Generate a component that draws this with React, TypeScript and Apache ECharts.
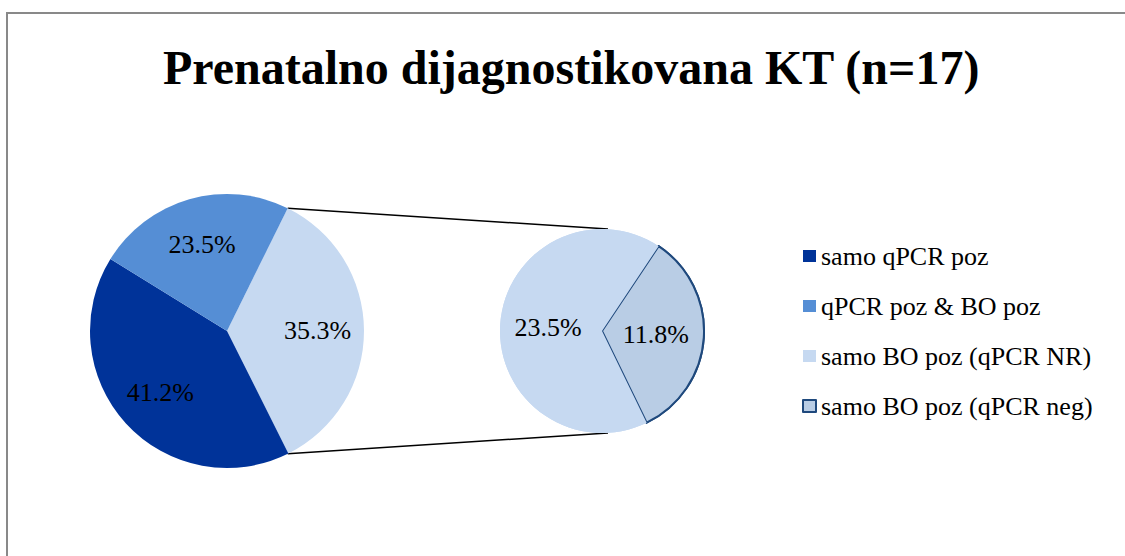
import React, { useEffect, useRef } from "react";
import * as echarts from "echarts";

const TITLE = "Prenatalno dijagnostikovana KT (n=17)";
// primary pie (clockwise from the split boundary)
const mainNames = ["samo BO poz", "samo qPCR poz", "qPCR poz & BO poz"];
const mainValues = [35.3, 41.2, 23.5];
const mainColors = ["#C6D9F1", "#003399", "#558ED5"];
// secondary pie (breakdown of "samo BO poz")
const subNames = ["samo BO poz (qPCR neg)", "samo BO poz (qPCR NR)"];
const subValues = [11.8, 23.5];
const subColors = ["#B9CDE5", "#C6D9F1"];
const legendNames = [
  "samo qPCR poz",
  "qPCR poz & BO poz",
  "samo BO poz (qPCR NR)",
  "samo BO poz (qPCR neg)",
];

const FONT = "Liberation Serif";

// layout
const C1 = [227, 331];
const R1 = 137;
const C2 = [602, 331];
const R2 = 102;
const START1 = 63.7;
const START2 = 56.3;

const boxStyle: React.CSSProperties = {
  position: "absolute",
  left: 0,
  top: 0,
  width: 1125,
  height: 556,
};

function mainData(withColor: boolean) {
  return mainNames.map((n, i) => ({
    name: n,
    value: mainValues[i],
    itemStyle: withColor
      ? { color: mainColors[i], borderWidth: 0 }
      : { color: "rgba(0,0,0,0)", borderWidth: 0 },
  }));
}

function subData() {
  return subNames.map((n, i) => ({
    name: n,
    value: subValues[i],
    itemStyle:
      i === 0
        ? { color: subColors[i], borderColor: "#1F497D", borderWidth: 2 }
        : { color: subColors[i], borderWidth: 0 },
  }));
}

export default function App() {
  const baseRef = useRef<HTMLDivElement>(null);
  const labelRef = useRef<HTMLDivElement>(null);
  useEffect(() => {
    if (!baseRef.current || !labelRef.current) return;
    const base = echarts.init(baseRef.current, null, { renderer: "svg" });
    const top = echarts.init(labelRef.current, null, { renderer: "svg" });
    const a = (START1 * Math.PI) / 180;
    const p1x = C1[0] + R1 * Math.cos(a);
    const p1yTop = C1[1] - R1 * Math.sin(a);
    const p1yBot = C1[1] + R1 * Math.sin(a);
    const p2x = C2[0] + 6;

    // underlying chart: frame, title, legend, connectors, slices
    base.setOption({
      animation: false,
      backgroundColor: "#fff",
      title: {
        text: TITLE,
        left: 158,
        top: 38,
        textStyle: { fontFamily: FONT, fontSize: 48, fontWeight: "bold", color: "#000" },
      },
      legend: {
        orient: "vertical",
        left: 797,
        top: 238,
        icon: "rect",
        itemWidth: 13,
        itemHeight: 12,
        itemGap: 24,
        data: legendNames,
        textStyle: { fontFamily: FONT, fontSize: 26, color: "#000", lineHeight: 26 },
      },
      graphic: [
        {
          type: "rect",
          shape: { x: 7, y: 13, width: 1300, height: 700 },
          style: { fill: "none", stroke: "#898989", lineWidth: 2 },
          silent: true,
        },
        {
          type: "line",
          shape: { x1: p1x, y1: p1yTop, x2: p2x, y2: C2[1] - R2 },
          style: { stroke: "#000", lineWidth: 1.5 },
          silent: true,
        },
        {
          type: "line",
          shape: { x1: p1x, y1: p1yBot, x2: p2x, y2: C2[1] + R2 },
          style: { stroke: "#000", lineWidth: 1.5 },
          silent: true,
        },
      ],
      series: [
        {
          type: "pie",
          center: C1,
          radius: [0, R1],
          startAngle: START1,
          label: { show: false },
          data: mainData(true),
        },
        {
          type: "pie",
          center: C2,
          radius: [0, R2],
          startAngle: START2,
          label: { show: false },
          data: subData(),
        },
      ],
    });

    // overlay chart: percentage labels of both pies
    const lbl = {
      show: true,
      position: "inside",
      formatter: "{c}%",
      fontFamily: FONT,
      fontSize: 26,
      color: "#000",
    };
    top.setOption({
      animation: false,
      backgroundColor: "transparent",
      series: [
        {
          type: "pie",
          center: C1,
          radius: [38, R1],
          startAngle: START1,
          silent: true,
          label: lbl,
          data: mainData(false),
        },
        {
          type: "pie",
          center: C2,
          radius: [0, R2],
          startAngle: START2,
          silent: true,
          label: lbl,
          data: subData(),
        },
      ],
    });
    return () => {
      top.dispose();
      base.dispose();
    };
  }, []);
  return (
    <>
      <div ref={baseRef} style={boxStyle} />
      <div ref={labelRef} style={boxStyle} />
    </>
  );
}
